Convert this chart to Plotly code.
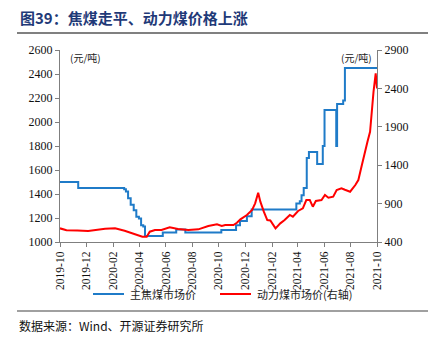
import plotly.graph_objects as go

# 主焦煤市场价 (元/吨), step series: date of each price change and new level
coking_dates = [
    "2019-10-01", "2019-11-12", "2020-02-26", "2020-03-01", "2020-03-06",
    "2020-03-12", "2020-03-19", "2020-03-25", "2020-03-31", "2020-04-05",
    "2020-04-10", "2020-04-14", "2020-05-25", "2020-06-25", "2020-07-16",
    "2020-10-07", "2020-11-10", "2020-11-19", "2020-12-05", "2020-12-16",
    "2021-03-29", "2021-04-06", "2021-04-10", "2021-04-15", "2021-04-22",
    "2021-04-27", "2021-05-16", "2021-05-29", "2021-06-02", "2021-06-29",
    "2021-07-01", "2021-07-15", "2021-07-19", "2021-10-01",
]
coking_price = [
    1500, 1450, 1440, 1420, 1365,
    1310, 1265, 1210, 1195, 1140,
    1130, 1050, 1080, 1105, 1080,
    1100, 1140, 1175, 1215, 1270,
    1320, 1340, 1390, 1450, 1700,
    1750, 1650, 1800, 2100, 1800,
    2150, 2180, 2450, 2450,
]

# 动力煤市场价 (元/吨, 右轴)
thermal_dates = [
    "2019-10-01", "2019-10-16", "2019-11-10", "2019-12-05", "2020-01-13",
    "2020-02-05", "2020-02-27", "2020-03-21", "2020-04-08", "2020-04-18",
    "2020-04-25", "2020-05-07", "2020-05-22", "2020-06-10", "2020-06-29",
    "2020-07-23", "2020-08-15", "2020-09-07", "2020-09-27", "2020-10-08",
    "2020-10-16", "2020-11-04", "2020-11-12", "2020-11-20", "2020-12-05",
    "2020-12-17", "2020-12-24", "2020-12-31", "2021-01-05", "2021-01-13",
    "2021-01-21", "2021-01-28", "2021-02-09", "2021-02-20", "2021-03-02",
    "2021-03-14", "2021-03-21", "2021-04-02", "2021-04-13", "2021-04-21",
    "2021-04-29", "2021-05-06", "2021-05-13", "2021-05-26", "2021-06-03",
    "2021-06-11", "2021-06-22", "2021-06-30", "2021-07-11", "2021-07-19",
    "2021-07-31", "2021-08-12", "2021-08-19", "2021-08-27", "2021-09-01",
    "2021-09-09", "2021-09-15", "2021-09-19", "2021-09-23", "2021-09-28",
    "2021-10-01",
]
thermal_price = [
    578, 552, 550, 543, 573,
    578, 547, 500, 469, 469,
    534, 556, 556, 591, 569,
    556, 565, 608, 630, 608,
    620, 621, 651, 695, 752,
    817, 904, 1042, 925, 795,
    686, 680, 578, 643, 686,
    752, 730, 804, 839, 947,
    947, 860, 934, 947, 1012,
    977, 990, 1077, 1099, 1080,
    1055, 1142, 1207, 1400, 1533,
    1706, 1836, 2140, 2357, 2596,
    2400,
]

series_names = ["主焦煤市场价", "动力煤市场价(右轴)"]
left_ticks = [1000, 1200, 1400, 1600, 1800, 2000, 2200, 2400, 2600]
right_ticks = [400, 900, 1400, 1900, 2400, 2900]
month_ticks = [
    "2019-10", "2019-12", "2020-02", "2020-04", "2020-06", "2020-08",
    "2020-10", "2020-12", "2021-02", "2021-04", "2021-06", "2021-08", "2021-10",
]

W, H = 436, 337
L, R, T, B = 60, 377, 50, 242  # plot area edges in pixels


def px(x):
    return (x - L) / (R - L)


def py(y):
    return (B - y) / (B - T)


BLUE = "#1F7BC8"
RED = "#FF0000"
AXIS = "#7F7F7F"
SERIF = "Liberation Serif, Times New Roman, serif"
CJK = "Noto Sans CJK SC"

fig = go.Figure()
fig.add_trace(go.Scatter(
    x=coking_dates, y=coking_price, name=series_names[0],
    mode="lines", line=dict(color=BLUE, width=2, shape="hv"),
))
fig.add_trace(go.Scatter(
    x=thermal_dates, y=thermal_price, name=series_names[1],
    mode="lines", line=dict(color=RED, width=2), yaxis="y2",
))

fig.update_layout(
    width=W, height=H,
    margin=dict(l=L, r=W - R, t=T, b=H - B),
    paper_bgcolor="white", plot_bgcolor="white",
    showlegend=False,
    xaxis=dict(
        type="date", range=["2019-10-01", "2021-10-01"],
        tickvals=[m + "-01" for m in month_ticks], ticktext=month_ticks,
        tickangle=-90, ticks="outside", ticklen=4, tickcolor=AXIS,
        showline=True, linecolor=AXIS, linewidth=1, showgrid=False,
        tickfont=dict(family=SERIF, size=11.5, color="#111"),
    ),
    yaxis=dict(
        range=[1000, 2600], tickvals=left_ticks, ticks="outside", ticklen=4,
        tickcolor=AXIS, showline=True, linecolor=AXIS, linewidth=1,
        showgrid=False, zeroline=False,
        tickfont=dict(family=SERIF, size=12, color="#111"),
    ),
    yaxis2=dict(
        range=[400, 2900], tickvals=right_ticks, overlaying="y", side="right",
        ticks="outside", ticklen=4, tickcolor=AXIS, showline=True,
        linecolor=AXIS, linewidth=1, showgrid=False, zeroline=False,
        tickfont=dict(family=SERIF, size=12, color="#111"),
    ),
)

annotations = [
    dict(text="<b>图39：焦煤走平、动力煤价格上涨</b>", x=px(18), y=py(17),
         xanchor="left", yanchor="middle",
         font=dict(family=CJK, size=15, color="#1F3A78")),
    dict(text="数据来源：Wind、开源证券研究所", x=px(17), y=py(325),
         xanchor="left", yanchor="middle",
         font=dict(family=CJK, size=12, color="#111")),
    dict(text="(元/吨)", x=px(68), y=py(57), xanchor="left", yanchor="middle",
         font=dict(family=CJK, size=10, color="#222")),
    dict(text="(元/吨)", x=px(374), y=py(57), xanchor="right", yanchor="middle",
         font=dict(family=CJK, size=10, color="#222")),
    # legend labels
    dict(text=series_names[0], x=px(128), y=py(294), xanchor="left",
         yanchor="middle", font=dict(family=CJK, size=11, color="#222")),
    dict(text=series_names[1], x=px(255), y=py(294), xanchor="left",
         yanchor="middle", font=dict(family=CJK, size=11, color="#222")),
]
for a in annotations:
    a.update(xref="paper", yref="paper", showarrow=False)
fig.update_layout(annotations=annotations)

fig.update_layout(shapes=[
    dict(type="line", xref="paper", yref="paper", x0=px(17), x1=px(428),
         y0=py(33), y1=py(33), line=dict(color="#808080", width=2)),
    dict(type="line", xref="paper", yref="paper", x0=px(17), x1=px(428),
         y0=py(311), y1=py(311), line=dict(color="#808080", width=1.5)),
    # legend keys
    dict(type="line", xref="paper", yref="paper", x0=px(93), x1=px(124),
         y0=py(294), y1=py(294), line=dict(color=BLUE, width=2)),
    dict(type="line", xref="paper", yref="paper", x0=px(220), x1=px(251),
         y0=py(294), y1=py(294), line=dict(color=RED, width=2)),
])

fig.write_html("out.html")
